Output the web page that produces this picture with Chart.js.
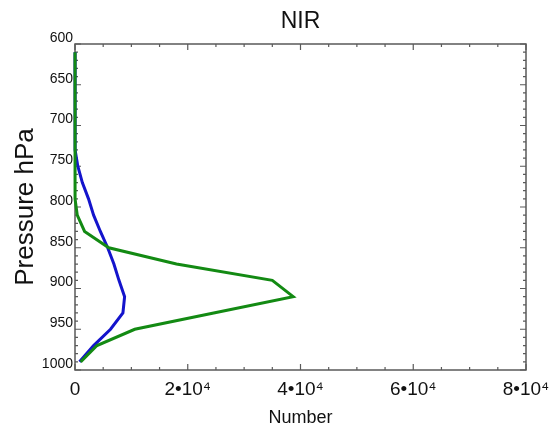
<!DOCTYPE html>
<html>
<head>
<meta charset="utf-8">
<script src="https://cdn.jsdelivr.net/npm/chart.js@4/dist/chart.umd.min.js"></script>
<style>
  html, body { margin: 0; padding: 0; background: #fff; }
  #wrap { width: 551px; height: 437px; }
</style>
</head>
<body>
<div id="wrap"><canvas id="nirChart"></canvas></div>
<script>
"use strict";

/* ── Data ───────────────────────────────────────────────────────────── */
const pressureLevels = [
  610, 630, 650, 670, 690, 710, 730, 750, 770, 790,
  810, 830, 850, 870, 890, 910, 930, 950, 970, 990,
];
const greenCounts = [
  0, 0, 0, 0, 0, 0, 0, 0, 0, 100,
  400, 1700, 6000, 18000, 35000, 38700, 24600, 10600, 3900, 1000,
];
const blueCounts = [
  0, 0, 0, 0, 0, 0, 100, 500, 1300, 2400,
  3300, 4500, 5800, 6900, 7800, 8800, 8500, 6300, 3300, 800,
];
const xTickLabels = ["0", "2•10⁴", "4•10⁴", "6•10⁴", "8•10⁴"];

const AXIS_COLOR = "#5a5a5a";
const FONT = "'Liberation Sans', Arial, sans-serif";

function toPoints(values) {
  return values.map((v, i) => ({ x: v, y: pressureLevels[i] }));
}

/* ── Frame + inward ticks ───────────────────────────────────────────── */
const framePlugin = {
  id: "frame",
  beforeDatasetsDraw(chart) {
    const { ctx, chartArea: a, scales } = chart;
    const xs = scales.x, ys = scales.y;
    ctx.save();
    ctx.strokeStyle = AXIS_COLOR;
    ctx.lineWidth = 1.5;
    ctx.strokeRect(a.left, a.top, a.right - a.left, a.bottom - a.top);

    ctx.lineWidth = 1.2;
    ctx.beginPath();
    for (let v = 0; v <= 80000; v += 5000) {
      const px = xs.getPixelForValue(v);
      const len = v % 20000 === 0 ? 6 : 3;
      ctx.moveTo(px, a.bottom); ctx.lineTo(px, a.bottom - len);
      ctx.moveTo(px, a.top); ctx.lineTo(px, a.top + len);
    }
    for (let p = 600; p <= 1000; p += 10) {
      const py = ys.getPixelForValue(p);
      const len = p % 50 === 0 ? 6 : 3;
      ctx.moveTo(a.left, py); ctx.lineTo(a.left + len, py);
      ctx.moveTo(a.right, py); ctx.lineTo(a.right - len, py);
    }
    ctx.stroke();
    ctx.restore();
  },
};

/* ── Chart ──────────────────────────────────────────────────────────── */
function initNirChart() {
  const canvas = document.getElementById("nirChart");
  const ctx = canvas.getContext("2d");

  new Chart(ctx, {
    type: "scatter",
    data: {
      datasets: [
        {
          data: toPoints(greenCounts),
          showLine: true,
          borderColor: "#138a13",
          borderWidth: 3,
          pointRadius: 0,
          tension: 0,
          clip: false,
        },
        {
          data: toPoints(blueCounts),
          showLine: true,
          borderColor: "#1414cc",
          borderWidth: 3,
          pointRadius: 0,
          tension: 0,
          clip: false,
        },
      ],
    },
    options: {
      responsive: true,
      maintainAspectRatio: false,
      animation: false,
      layout: { padding: { left: 0, right: 25, top: 0, bottom: 0 } },
      plugins: {
        legend: { display: false },
        tooltip: { enabled: false },
        title: {
          display: true,
          text: "NIR",
          color: "#111",
          fullSize: false,
          font: { family: FONT, size: 23, weight: "normal" },
          padding: { top: 8, bottom: 8.4 },
        },
      },
      scales: {
        x: {
          type: "linear",
          min: 0,
          max: 80000,
          grid: { display: false, drawTicks: false },
          border: { display: false },
          afterFit: (s) => { s.height = 67; s.paddingLeft = 0; s.paddingRight = 0; },
          ticks: {
            stepSize: 20000,
            maxRotation: 0,
            padding: 8,
            color: "#111",
            font: { family: FONT, size: 19 },
            callback: (v) => xTickLabels[v / 20000],
          },
          title: {
            display: true,
            text: "Number",
            color: "#111",
            font: { family: FONT, size: 18 },
            padding: { top: 0, bottom: 8 },
          },
        },
        y: {
          type: "linear",
          reverse: true,
          min: 600,
          max: 1000,
          grid: { display: false, drawTicks: false },
          border: { display: false },
          afterFit: (s) => { s.width = 75; },
          ticks: {
            stepSize: 50,
            padding: 2,
            labelOffset: -6,
            color: "#111",
            font: { family: FONT, size: 14 },
            callback: (v) => String(v),
          },
          title: {
            display: true,
            text: "Pressure hPa",
            color: "#111",
            font: { family: FONT, size: 26 },
            padding: { top: 10, bottom: 0 },
          },
        },
      },
    },
    plugins: [framePlugin],
  });
}

document.addEventListener("DOMContentLoaded", initNirChart);
</script>
</body>
</html>
